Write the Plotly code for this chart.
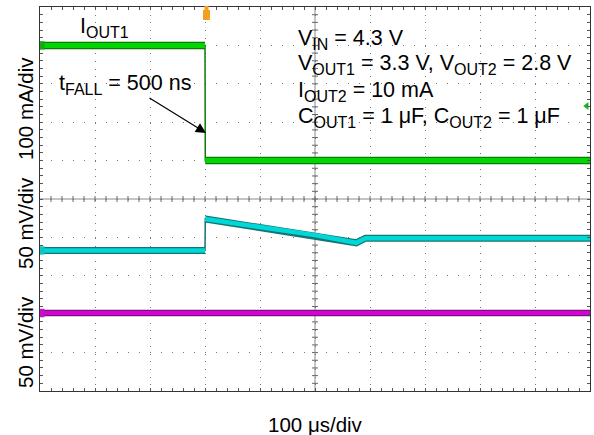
import plotly.graph_objects as go

# ---------------- data (read from the scope capture) ----------------
# time axis: 100 us/div, trigger (load step) at t = 0
time_range_us = [-300, 700]

# I_OUT1 load current (100 mA/div)
iout1_time_us = [-300, 0, 0.5, 700]
iout1_ma = [300, 300, 0, 0]

# V_OUT1 deviation (50 mV/div)
vout1_time_us = [-300, 0, 0.5, 100, 200, 275, 292, 700]
vout1_mv = [0, 0, 41, 30, 20, 10, 16, 16]

# V_OUT2 deviation (50 mV/div)
vout2_time_us = [-300, 700]
vout2_mv = [0, 0]

# channel reference levels (left-edge markers) and trigger level
iout1_ref_ma = 300
vout1_ref_mv = 0
vout2_ref_mv = 0
trig_level_div = 7.42

# axis ranges per channel (10 vertical divisions)
iout1_range = [-600, 400]
vout1_range = [-183, 317]
vout2_range = [-101.5, 398.5]

FONT = "Liberation Sans, Arial, Helvetica, sans-serif"

# ---------------- helpers ----------------
PL, PR, PT, PB = 40, 590, 7, 391  # plot area pixel box


def px_x(p):
    return (p - PL) / (PR - PL)


def px_y(p):
    return (PB - p) / (PB - PT)


def sub(s):
    return "<sub><span style='font-size:16px'>" + s + "</span></sub>"


def split_fast_edges(t, v, min_dt=1.0):
    xs, ys = [t[0]], [v[0]]
    for i in range(1, len(t)):
        if t[i] - t[i - 1] < min_dt:
            xs.append(None)
            ys.append(None)
        xs.append(t[i])
        ys.append(v[i])
    return xs, ys


fig = go.Figure()


def add_trace_band(t, v, yaxis, dark, bright, wide, narrow):
    # thin edge (fast transitions)
    fig.add_trace(go.Scatter(x=t, y=v, yaxis=yaxis, mode="lines",
                             line=dict(color=dark, width=1.5),
                             hoverinfo="skip", showlegend=False))
    xs, ys = split_fast_edges(t, v)
    fig.add_trace(go.Scatter(x=xs, y=ys, yaxis=yaxis, mode="lines",
                             line=dict(color=dark, width=wide),
                             hoverinfo="skip", showlegend=False, connectgaps=False))
    fig.add_trace(go.Scatter(x=xs, y=ys, yaxis=yaxis, mode="lines",
                             line=dict(color=bright, width=narrow),
                             hoverinfo="skip", showlegend=False, connectgaps=False))


add_trace_band(iout1_time_us, iout1_ma, "y2", "#0b7a0b", "#00d600", 7.5, 5)
add_trace_band(vout1_time_us, vout1_mv, "y3", "#137676", "#00d8d8", 7, 4.5)
add_trace_band(vout2_time_us, vout2_mv, "y4", "#7a1278", "#d800d8", 6.5, 4)

# trigger level marker at the right edge
fig.add_trace(go.Scatter(x=[time_range_us[1] - 6], y=[trig_level_div], mode="markers",
                         marker=dict(symbol="triangle-left", size=7, color="#22b022"),
                         cliponaxis=False, hoverinfo="skip", showlegend=False))

# ---------------- shapes: center lines with ticks, markers ----------------
shapes = []
tmid = (time_range_us[0] + time_range_us[1]) / 2
shapes.append(dict(type="line", xref="x", yref="paper", x0=tmid, x1=tmid, y0=0, y1=1,
                   line=dict(color="#8a8a8a", width=1), layer="below"))
shapes.append(dict(type="line", xref="paper", yref="y", x0=0, x1=1, y0=5, y1=5,
                   line=dict(color="#8a8a8a", width=1), layer="below"))
for k in range(1, 50):
    yv = k * 0.2
    shapes.append(dict(type="line", xref="x", xsizemode="pixel", xanchor=tmid, x0=-3, x1=3,
                       yref="y", y0=yv, y1=yv, line=dict(color="#666", width=1),
                       layer="below"))
    tv = time_range_us[0] + k * 20
    shapes.append(dict(type="line", yref="y", ysizemode="pixel", yanchor=5, y0=-3, y1=3,
                       xref="x", x0=tv, x1=tv, line=dict(color="#666", width=1),
                       layer="below"))

# channel markers on the left edge
for yref, lvl, col, half in [("y2", iout1_ref_ma, "#11aa11", 11),
                             ("y3", vout1_ref_mv, "#11c4c4", 5.5),
                             ("y4", vout2_ref_mv, "#c411c4", 5.5)]:
    shapes.append(dict(type="rect", xref="paper", x0=0, x1=px_x(44.5), yref=yref,
                       y0=lvl - half, y1=lvl + half, fillcolor=col, line=dict(width=0)))

# trigger position marker at top
shapes.append(dict(type="rect", xref="paper", yref="paper",
                   x0=px_x(203), x1=px_x(210), y0=px_y(20), y1=px_y(10),
                   fillcolor="#f3a020", line=dict(width=0)))
shapes.append(dict(type="rect", xref="paper", yref="paper",
                   x0=px_x(204.5), x1=px_x(208.5), y0=px_y(10), y1=px_y(6),
                   fillcolor="#f3a020", line=dict(width=0)))

# ---------------- annotations ----------------
ann = []


def txt(text, x, y, xanchor="left", yanchor="middle", size=21.5, angle=0):
    ann.append(dict(text=text, xref="paper", yref="paper", x=px_x(x), y=px_y(y),
                    xanchor=xanchor, yanchor=yanchor, showarrow=False, textangle=angle,
                    font=dict(family=FONT, size=size, color="black")))


txt("I" + sub("OUT1"), 78, 27)
txt("t" + sub("FALL") + " = 500 ns", 57, 84)
txt("V" + sub("IN") + " = 4.3 V", 296, 39)
txt("V" + sub("OUT1") + " = 3.3 V, V" + sub("OUT2") + " = 2.8 V", 296, 65)
txt("I" + sub("OUT2") + " = 10 mA", 296, 91)
txt("C" + sub("OUT1") + " = 1 μF, C" + sub("OUT2") + " = 1 μF", 296, 117)
txt("100 μs/div", 315.5, 424, xanchor="center", size=20.5)
txt("100 mA/div", 25.5, 108.5, xanchor="center", size=20.5, angle=-90)
txt("50 mV/div", 25.5, 223.5, xanchor="center", size=20.5, angle=-90)
txt("50 mV/div", 25.5, 342.5, xanchor="center", size=20.5, angle=-90)

# arrow pointing to the falling edge
ann.append(dict(text="", xref="paper", yref="paper", x=px_x(206), y=px_y(133),
                ax=148 - 206, ay=97 - 133, axref="pixel", ayref="pixel",
                showarrow=True, arrowhead=2, arrowsize=1.7, arrowwidth=1.2,
                arrowcolor="black"))
ann.append(dict(text="T", xref="paper", yref="paper", x=px_x(206.5), y=px_y(15),
                showarrow=False, font=dict(family=FONT, size=7, color="#fff3d0")))

# ---------------- layout ----------------
hidden = dict(visible=False, overlaying="y", showgrid=False, zeroline=False, fixedrange=True)

fig.update_layout(
    width=594, height=435,
    margin=dict(l=PL, r=594 - PR, t=PT, b=435 - PB),
    paper_bgcolor="white", plot_bgcolor="white",
    showlegend=False,
    xaxis=dict(range=time_range_us, dtick=100, tick0=time_range_us[0],
               showgrid=True, gridcolor="#777", gridwidth=1, griddash="1px,6.7px",
               zeroline=False, showticklabels=False,
               ticks="inside", ticklen=3, tickcolor="#555",
               minor=dict(dtick=20, tick0=time_range_us[0], ticks="inside", ticklen=3,
                          tickcolor="#555", showgrid=False),
               showline=True, linecolor="#333", linewidth=1, mirror="ticks"),
    yaxis=dict(range=[0, 10], dtick=1, tick0=0,
               showgrid=True, gridcolor="#777", gridwidth=1, griddash="1px,10px",
               zeroline=False, showticklabels=False,
               ticks="inside", ticklen=3, tickcolor="#555",
               minor=dict(dtick=0.2, tick0=0, ticks="inside", ticklen=3,
                          tickcolor="#555", showgrid=False),
               showline=True, linecolor="#333", linewidth=1, mirror="ticks"),
    yaxis2=dict(range=iout1_range, **hidden),
    yaxis3=dict(range=vout1_range, **hidden),
    yaxis4=dict(range=vout2_range, **hidden),
    shapes=shapes,
    annotations=ann,
)

# remove the browser's default page margin so the figure sits at the window's corner
fig.write_html("out.html", config={"displayModeBar": False},
               post_script="document.body.style.margin='0';document.body.style.padding='0';")
